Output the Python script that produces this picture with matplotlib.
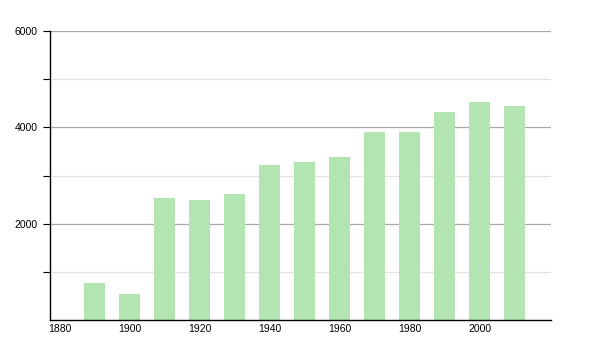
import matplotlib
matplotlib.use("Agg")
import matplotlib.pyplot as plt

# population by census year
years = [1890, 1900, 1910, 1920, 1930, 1940, 1950, 1960, 1970, 1980, 1990, 2000, 2010]
population = [762, 540, 2530, 2491, 2616, 3218, 3273, 3377, 3903, 3903, 4318, 4526, 4443]

x_ticks = [1880, 1900, 1920, 1940, 1960, 1980, 2000]
y_major = [2000, 4000, 6000]
y_minor = [1000, 3000, 5000]

plt.rcParams['font.family'] = ['Liberation Sans', 'DejaVu Sans']

fig = plt.figure(figsize=(6, 3.5), dpi=100)
ax = fig.add_axes([50 / 600, 30 / 350, 501 / 600, 289 / 350])

ax.bar(years, population, width=6, color='#b3e5b3', zorder=3)

ax.set_xlim(1877.2, 2020.3)
ax.set_ylim(0, 6000)

# grid lines: darker for labelled values, lighter in between
for v in y_major:
    ax.axhline(v, color='#a8a8a8', lw=0.9, zorder=1)
for v in y_minor:
    ax.axhline(v, color='#e2e2e2', lw=0.9, zorder=1)

ax.set_yticks(y_major)
ax.set_yticklabels([str(v) for v in y_major])
ax.set_yticks(y_minor, minor=True)
ax.set_xticks(x_ticks)
ax.set_xticklabels([str(v) for v in x_ticks])

ax.tick_params(axis='y', which='both', length=5, width=0.8, direction='out',
               labelsize=7.5, pad=4, color='black')
ax.tick_params(axis='x', length=0, labelsize=7.5, pad=3)

for s in ['top', 'right']:
    ax.spines[s].set_visible(False)
for s in ['left', 'bottom']:
    ax.spines[s].set_linewidth(1.0)
    ax.spines[s].set_color('black')
    ax.spines[s].set_zorder(4)

fig.savefig('out.png', dpi=100)
